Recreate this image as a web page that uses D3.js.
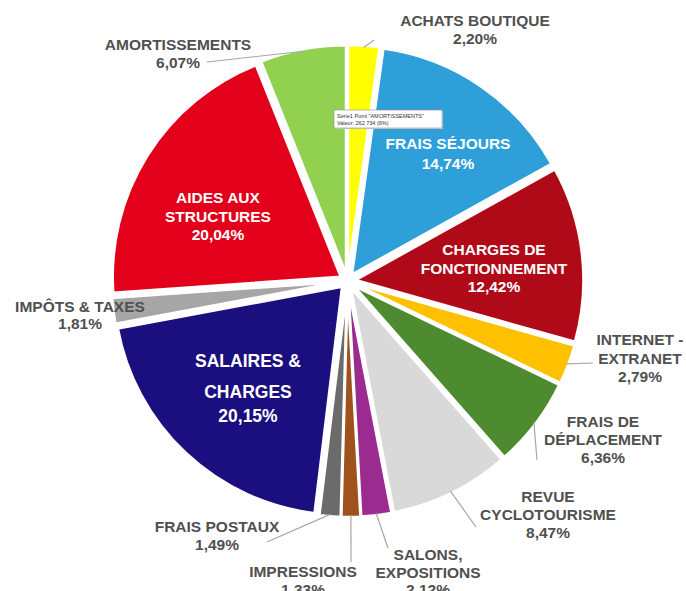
<!DOCTYPE html>
<html>
<head>
<meta charset="utf-8">
<script src="https://cdn.jsdelivr.net/npm/d3@7"></script>
<style>
  body { margin: 0; background: #fff; }
  text { font-family: "Liberation Sans", Arial, sans-serif; font-weight: bold; }
</style>
</head>
<body>
<div id="chart"></div>
<script>
const width = 686;
const height = 591;

// data (percent of total, clockwise from 12 o'clock)
const categories = [
  "ACHATS BOUTIQUE", "FRAIS SÉJOURS", "CHARGES DE FONCTIONNEMENT", "INTERNET - EXTRANET",
  "FRAIS DE DÉPLACEMENT", "REVUE CYCLOTOURISME", "SALONS, EXPOSITIONS", "IMPRESSIONS",
  "FRAIS POSTAUX", "SALAIRES & CHARGES", "IMPÔTS & TAXES", "AIDES AUX STRUCTURES", "AMORTISSEMENTS"
];
const values = [2.20, 14.74, 12.42, 2.79, 6.36, 8.47, 2.12, 1.33, 1.49, 20.15, 1.81, 20.04, 6.07];
const colors = [
  "#ffff00", "#2e9fd9", "#b00a19", "#ffc000", "#4e8a2f", "#d9d9d9", "#9b2a91",
  "#a0521c", "#6b6b6b", "#1b0f80", "#a6a6a6", "#e2001a", "#92d050"
];
// how each label wraps
const labelLines = [
  ["ACHATS BOUTIQUE"], ["FRAIS SÉJOURS"], ["CHARGES DE", "FONCTIONNEMENT"], ["INTERNET -", "EXTRANET"],
  ["FRAIS DE", "DÉPLACEMENT"], ["REVUE", "CYCLOTOURISME"], ["SALONS,", "EXPOSITIONS"], ["IMPRESSIONS"],
  ["FRAIS POSTAUX"], ["SALAIRES &", "CHARGES"], ["IMPÔTS & TAXES"], ["AIDES AUX", "STRUCTURES"], ["AMORTISSEMENTS"]
];

// label placement (manual, like the original data labels)
const labelLayout = {
  "ACHATS BOUTIQUE":           { x: 475, y: 26,  lh: 18, leader: [374, 40] },
  "FRAIS SÉJOURS":             { x: 448, y: 149, lh: 20, inside: true },
  "CHARGES DE FONCTIONNEMENT": { x: 494, y: 255, lh: 18.5, inside: true },
  "INTERNET - EXTRANET":       { x: 640, y: 345, lh: 18.5, leader: [593, 363] },
  "FRAIS DE DÉPLACEMENT":      { x: 603, y: 427, lh: 18, leader: [537, 460] },
  "REVUE CYCLOTOURISME":       { x: 548, y: 502, lh: 18, leader: [476, 527] },
  "SALONS, EXPOSITIONS":       { x: 428, y: 560, lh: 17.5, leader: [388, 548] },
  "IMPRESSIONS":               { x: 303, y: 577, lh: 17.5, leader: [351, 562] },
  "FRAIS POSTAUX":             { x: 217, y: 532, lh: 18, leader: [267, 542] },
  "SALAIRES & CHARGES":        { x: 248, y: 367, lh: [31, 24], inside: true, big: true },
  "IMPÔTS & TAXES":            { x: 80,  y: 312, lh: 16.5 },
  "AIDES AUX STRUCTURES":      { x: 218, y: 203, lh: 18.5, inside: true },
  "AMORTISSEMENTS":            { x: 178, y: 50,  lh: 18, leader: [207, 62] }
};

const cx = 347.5, cy = 281, radius = 228, explode = 8;

const fmt = v => d3.format(".2f")(v).replace(".", ",") + "%";

const svg = d3.select("#chart")
  .append("svg")
  .attr("width", width)
  .attr("height", height);

const pieData = d3.pie().sort(null).value(d => d.value)(
  categories.map((c, i) => ({ name: c, value: values[i], color: colors[i], lines: labelLines[i] }))
);

const arc = d3.arc().innerRadius(0).outerRadius(radius);

const mid = d => (d.startAngle + d.endAngle) / 2;

const g = svg.append("g").attr("transform", `translate(${cx},${cy})`);

g.selectAll("path.slice")
  .data(pieData)
  .join("path")
  .attr("class", "slice")
  .attr("d", arc)
  .attr("fill", d => d.data.color)
  .attr("stroke", "#fff")
  .attr("stroke-width", 2.5)
  .attr("stroke-linejoin", "round")
  .attr("transform", d => `translate(${explode * Math.sin(mid(d))},${-explode * Math.cos(mid(d))})`);

// leader lines
pieData.forEach(d => {
  const L = labelLayout[d.data.name];
  if (!L.leader) return;
  const a = mid(d);
  const x0 = cx + (radius + explode - 2) * Math.sin(a);
  const y0 = cy - (radius + explode - 2) * Math.cos(a);
  svg.append("line")
    .attr("x1", x0).attr("y1", y0)
    .attr("x2", L.leader[0]).attr("y2", L.leader[1])
    .attr("stroke", "#a6a6a6")
    .attr("stroke-width", 1.2);
});

// labels
pieData.forEach(d => {
  const L = labelLayout[d.data.name];
  const lines = d.data.lines.concat([fmt(d.data.value)]);
  const t = svg.append("text")
    .attr("text-anchor", "middle")
    .attr("fill", L.inside ? "#fff" : "#505050")
    .style("font-size", L.big ? "17.5px" : "15.5px");
  let y = L.y;
  lines.forEach((s, i) => {
    if (i > 0) y += Array.isArray(L.lh) ? L.lh[i - 1] : L.lh;
    t.append("tspan").attr("x", L.x).attr("y", y).text(s);
  });
});

// hover tooltip captured in the screenshot
const tip = svg.append("g").attr("transform", "translate(334,110)");
tip.append("rect")
  .attr("x", 1).attr("y", 1).attr("width", 108).attr("height", 18)
  .attr("fill", "#d0d0d0");
tip.append("rect")
  .attr("width", 108).attr("height", 18)
  .attr("fill", "#fff").attr("stroke", "#8c8c8c").attr("stroke-width", 0.6);
tip.append("text").attr("x", 3).attr("y", 7.5)
  .style("font-size", "5.5px").style("font-weight", "normal").attr("fill", "#333")
  .text("Série1 Point \"AMORTISSEMENTS\"");
tip.append("text").attr("x", 3).attr("y", 14.5)
  .style("font-size", "5.5px").style("font-weight", "normal").attr("fill", "#333")
  .text("Valeur: 262 734 (6%)");
</script>
</body>
</html>
